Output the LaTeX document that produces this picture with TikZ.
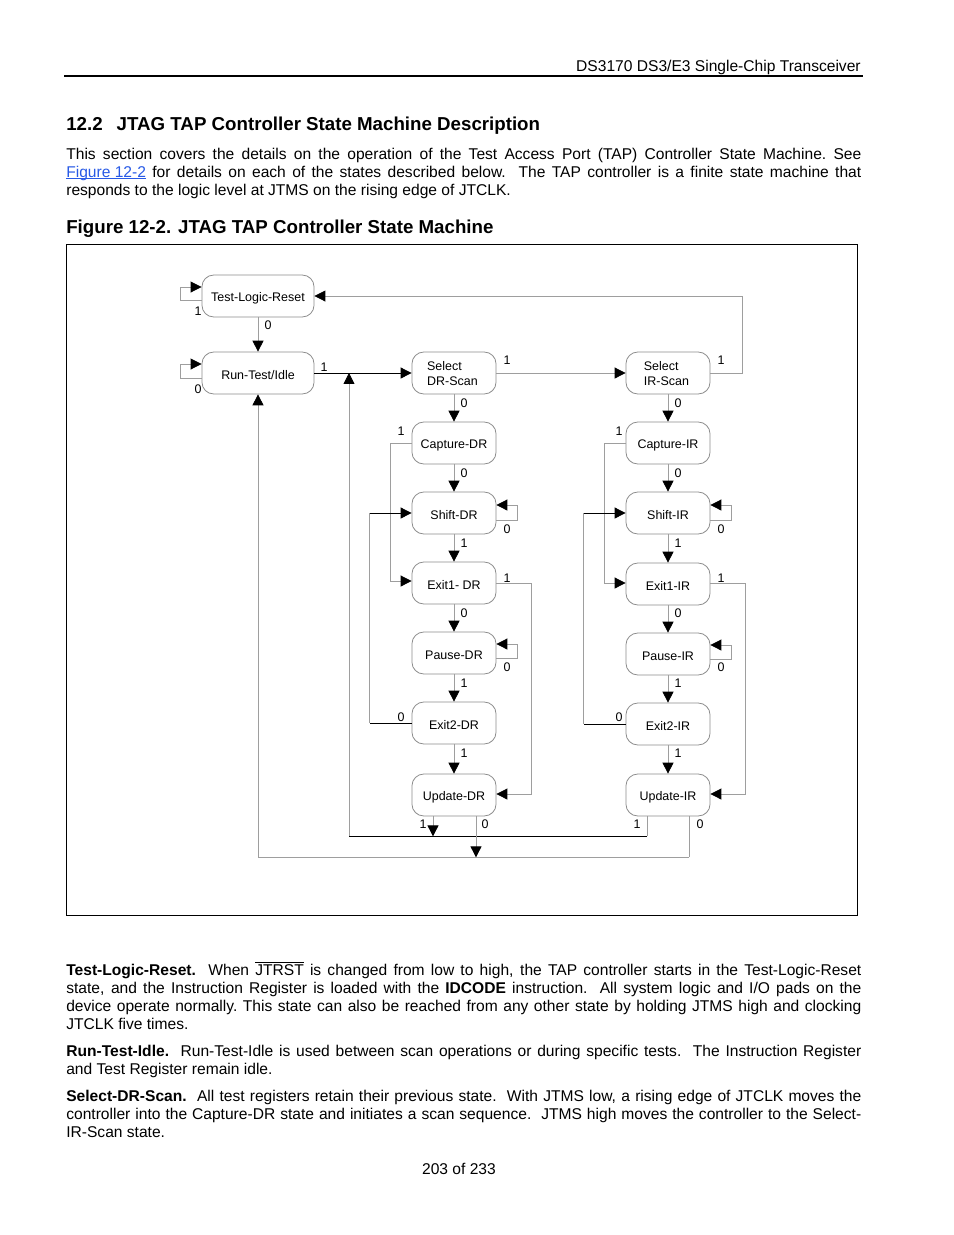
\documentclass[tikz,border=0pt]{standalone}
\usepackage{fontspec}
\setmainfont{Liberation Sans}
\usetikzlibrary{arrows.meta,calc}
\definecolor{linkblue}{RGB}{40,90,230}
\newcommand{\jl}[1]{\hbox to 510pt{#1}}
\newcommand{\dn}[1]{\raisebox{-1.3pt}[\height][\depth]{#1}}
\newcommand{\ulk}[1]{\setbox0\hbox{#1}\rlap{\rule[-1.4pt]{\wd0}{0.5pt}}\box0}
\tikzset{
  st/.style={draw=black!45, line width=0.5pt, rounded corners=7.5pt, minimum width=53.9pt, minimum height=26.9pt, inner sep=1pt, font=\fontsize{8}{9.6}\selectfont, align=left},
  wide/.style={minimum width=71.9pt},
  gl/.style={draw=black!38, line width=0.5pt},
  bl/.style={draw=black, line width=0.55pt},
  tip/.style={-{Triangle[length=7pt,width=7pt,color=black]}},
  lab/.style={font=\fontsize{8}{9.6}\selectfont, inner sep=0pt},
  txt/.style={anchor=base west, inner sep=0pt, font=\fontsize{10}{12}\selectfont},
  hd/.style={anchor=base west, inner sep=0pt, font=\fontsize{12}{14}\selectfont\bfseries},
}
\begin{document}
\begin{tikzpicture}[x=0.6415pt,y=-0.6415pt]
\useasboundingbox[fill=white] (0,0) rectangle (954,1235);
% header
\node[txt,anchor=base east] (hdr) at (861,71) {DS3170 DS3/E3 Single-Chip Transceiver};
\draw[line width=0.8pt] (64,76) -- (863,76);
\node[hd] (sec) at (66,130) {12.2\hspace{9pt}JTAG TAP Controller State Machine Description};
\node[txt] (p1) at (66,159) {\jl{This section covers the details on the operation of the Test Access Port (TAP) Controller State Machine.\ See}};
\node[txt] (p2) at (66,177) {\jl{\textcolor{linkblue}{\ulk{Figure 12-2}} for details on each of the states described below.\ \ The TAP controller is a finite state machine that}};
\node[txt] (p3) at (66,195) {responds to the logic level at JTMS on the rising edge of JTCLK.};
\node[hd] (fig) at (66,233) {Figure 12-2. JTAG TAP Controller State Machine};
\draw[line width=0.6pt] (66,244) rectangle (857,915);

% states
\node[st,wide] (tlr) at (258,296) {\dn{Test-Logic-Reset}};
\node[st,wide] (rti) at (258,373) {\dn{Run-Test/Idle}};
\node[st] (seldr) at (454,373) {\dn{\begin{tabular}{@{}l@{}}Select\\DR-Scan\end{tabular}}\hspace{2pt}};
\node[st] (selir) at (668,373) {\dn{\begin{tabular}{@{}l@{}}Select\\IR-Scan\end{tabular}}\hspace{2pt}};
\node[st] (capdr) at (454,443) {\dn{Capture-DR}};
\node[st] (shdr) at (454,513) {\dn{Shift-DR}};
\node[st] (ex1dr) at (454,583) {\dn{Exit1- DR}};
\node[st] (padr) at (454,653) {\dn{Pause-DR}};
\node[st] (ex2dr) at (454,723) {\dn{Exit2-DR}};
\node[st] (updr) at (454,795) {\dn{Update-DR}};
\node[st] (capir) at (668,443) {\dn{Capture-IR}};
\node[st] (shir) at (668,513) {\dn{Shift-IR}};
\node[st] (ex1ir) at (668,584) {\dn{Exit1-IR}};
\node[st] (pair) at (668,654) {\dn{Pause-IR}};
\node[st] (ex2ir) at (668,724) {\dn{Exit2-IR}};
\node[st] (upir) at (668,795) {\dn{Update-IR}};

% TLR loop and TLR->RTI
\draw[gl,tip] ($(tlr.west)+(0,4)$) -- ++(-21,0) -- ++(0,-13) -- ($(tlr.west)+(0,-9)$);
\node[lab] at (198,311) {1};
\draw[gl,tip] (tlr) -- (rti);
\node[lab] at (268,325) {0};
% RTI loop
\draw[gl,tip] ($(rti.west)+(0,5)$) -- ++(-21,0) -- ++(0,-14) -- ($(rti.west)+(0,-9)$);
\node[lab] at (198,389) {0};
% RTI -> SelDR
\draw[bl,tip] (rti) -- (seldr);
\node[lab] at (324,367) {1};
% SelDR -> SelIR
\draw[gl,tip] (seldr) -- (selir);
\node[lab] at (507,360) {1};
% SelIR -> TLR
\draw[gl,tip] (selir.east) -- ++(32,0) |- (tlr.east);
\node[lab] at (721,360) {1};
% SelDR/SelIR -> Capture
\draw[gl,tip] (seldr) -- (capdr);
\node[lab] at (464,403) {0};
\draw[gl,tip] (selir) -- (capir);
\node[lab] at (678,403) {0};

% ---- DR column ----
\draw[gl,tip] (capdr) -- (shdr);
\node[lab] at (464,473) {0};
\draw[gl,tip] (capdr.west) -- ++(-21,0) |- ($(ex1dr.west)+(0,-2)$);
\node[lab] at (401,431) {1};
\draw[gl,tip] ($(shdr.east)+(0,7)$) -- ++(21,0) -- ++(0,-15) -- ($(shdr.east)+(0,-8)$);
\node[lab] at (507,529) {0};
\draw[gl,tip] (shdr) -- (ex1dr);
\node[lab] at (464,543) {1};
\draw[gl,tip] (ex1dr.east) -- ++(35,0) |- ($(updr.east)+(0,-1)$);
\node[lab] at (507,578) {1};
\draw[gl,tip] (ex1dr) -- (padr);
\node[lab] at (464,613) {0};
\draw[gl,tip] ($(padr.east)+(0,5)$) -- ++(21,0) -- ++(0,-14) -- ($(padr.east)+(0,-9)$);
\node[lab] at (507,667) {0};
\draw[gl,tip] (padr) -- (ex2dr);
\node[lab] at (464,683) {1};
\draw[bl] (ex2dr.west) -- ++(-42,0) coordinate (e2dl);
\draw[gl] (e2dl) -- (e2dl |- shdr.west);
\draw[bl,tip] (e2dl |- shdr.west) -- (shdr.west);
\node[lab] at (401,717) {0};
\draw[gl,tip] (ex2dr) -- (updr);
\node[lab] at (464,753) {1};

% ---- IR column ----
\draw[gl,tip] (capir) -- (shir);
\node[lab] at (678,473) {0};
\draw[gl,tip] (capir.west) -- ++(-21,0) |- ($(ex1ir.west)+(0,-1)$);
\node[lab] at (619,431) {1};
\draw[gl,tip] ($(shir.east)+(0,7)$) -- ++(21,0) -- ++(0,-15) -- ($(shir.east)+(0,-8)$);
\node[lab] at (721,529) {0};
\draw[gl,tip] (shir) -- (ex1ir);
\node[lab] at (678,543) {1};
\draw[gl,tip] ($(ex1ir.east)+(0,-1)$) -- ++(35,0) |- ($(upir.east)+(0,-1)$);
\node[lab] at (721,578) {1};
\draw[gl,tip] (ex1ir) -- (pair);
\node[lab] at (678,613) {0};
\draw[gl,tip] ($(pair.east)+(0,5)$) -- ++(21,0) -- ++(0,-14) -- ($(pair.east)+(0,-9)$);
\node[lab] at (721,667) {0};
\draw[gl,tip] (pair) -- (ex2ir);
\node[lab] at (678,683) {1};
\draw[bl] (ex2ir.west) -- ++(-42,0) coordinate (e2il);
\draw[gl] (e2il) -- (e2il |- shir.west);
\draw[bl,tip] (e2il |- shir.west) -- (shir.west);
\node[lab] at (619,717) {0};
\draw[gl,tip] (ex2ir) -- (upir);
\node[lab] at (678,753) {1};

% ---- bottom returns ----
\coordinate (b1) at (349,836);
\coordinate (b2) at (647,836);
\coordinate (c1) at (258,857);
\coordinate (c2) at (689,857);
\draw[bl] (b2) -- (b1);
\draw[gl] ($(upir.south)+(-21,0)$) -- (b2);
\draw[gl,tip] (b1) -- (b1 |- rti.east);
\draw[gl,tip] ($(updr.south)+(-21,0)$) -- ($(updr.south)+(-21,20)$);
\node[lab] at (423,824) {1};
\node[lab] at (637,824) {1};
\draw[gl] (c2) -- (c1);
\draw[gl] ($(upir.south)+(21,0)$) -- (c2);
\draw[gl,tip] ($(updr.south)+(22,0)$) -- ($(updr.south)+(22,41)$);
\draw[gl,tip] (c1) -- (rti.south);
\node[lab] at (485,824) {0};
\node[lab] at (700,824) {0};

% bottom text
\node[txt] (q1) at (66,975) {\jl{\textbf{Test-Logic-Reset.}\ \ When $\overline{\hbox{JTRST}}$ is changed from low to high, the TAP controller starts in the Test-Logic-Reset}};
\node[txt] (q2) at (66,993) {\jl{state, and the Instruction Register is loaded with the \textbf{IDCODE} instruction.\ \ All system logic and I/O pads on the}};
\node[txt] (q3) at (66,1011) {\jl{device operate normally.\ This state can also be reached from any other state by holding JTMS high and clocking}};
\node[txt] (q4) at (66,1029) {JTCLK five times.};
\node[txt] (r1) at (66,1056) {\jl{\textbf{Run-Test-Idle.}\ \ Run-Test-Idle is used between scan operations or during specific tests.\ \ The Instruction Register}};
\node[txt] (r2) at (66,1074) {and Test Register remain idle.};
\node[txt] (s1) at (66,1101) {\jl{\textbf{Select-DR-Scan.}\ \ All test registers retain their previous state.\ \ With JTMS low, a rising edge of JTCLK moves the}};
\node[txt] (s2) at (66,1119) {\jl{controller into the Capture-DR state and initiates a scan sequence.\ \ JTMS high moves the controller to the Select-}};
\node[txt] (s3) at (66,1137) {IR-Scan state.};
\node[txt,anchor=base] (pg) at (459,1174) {203 of 233};
\end{tikzpicture}
\end{document}
